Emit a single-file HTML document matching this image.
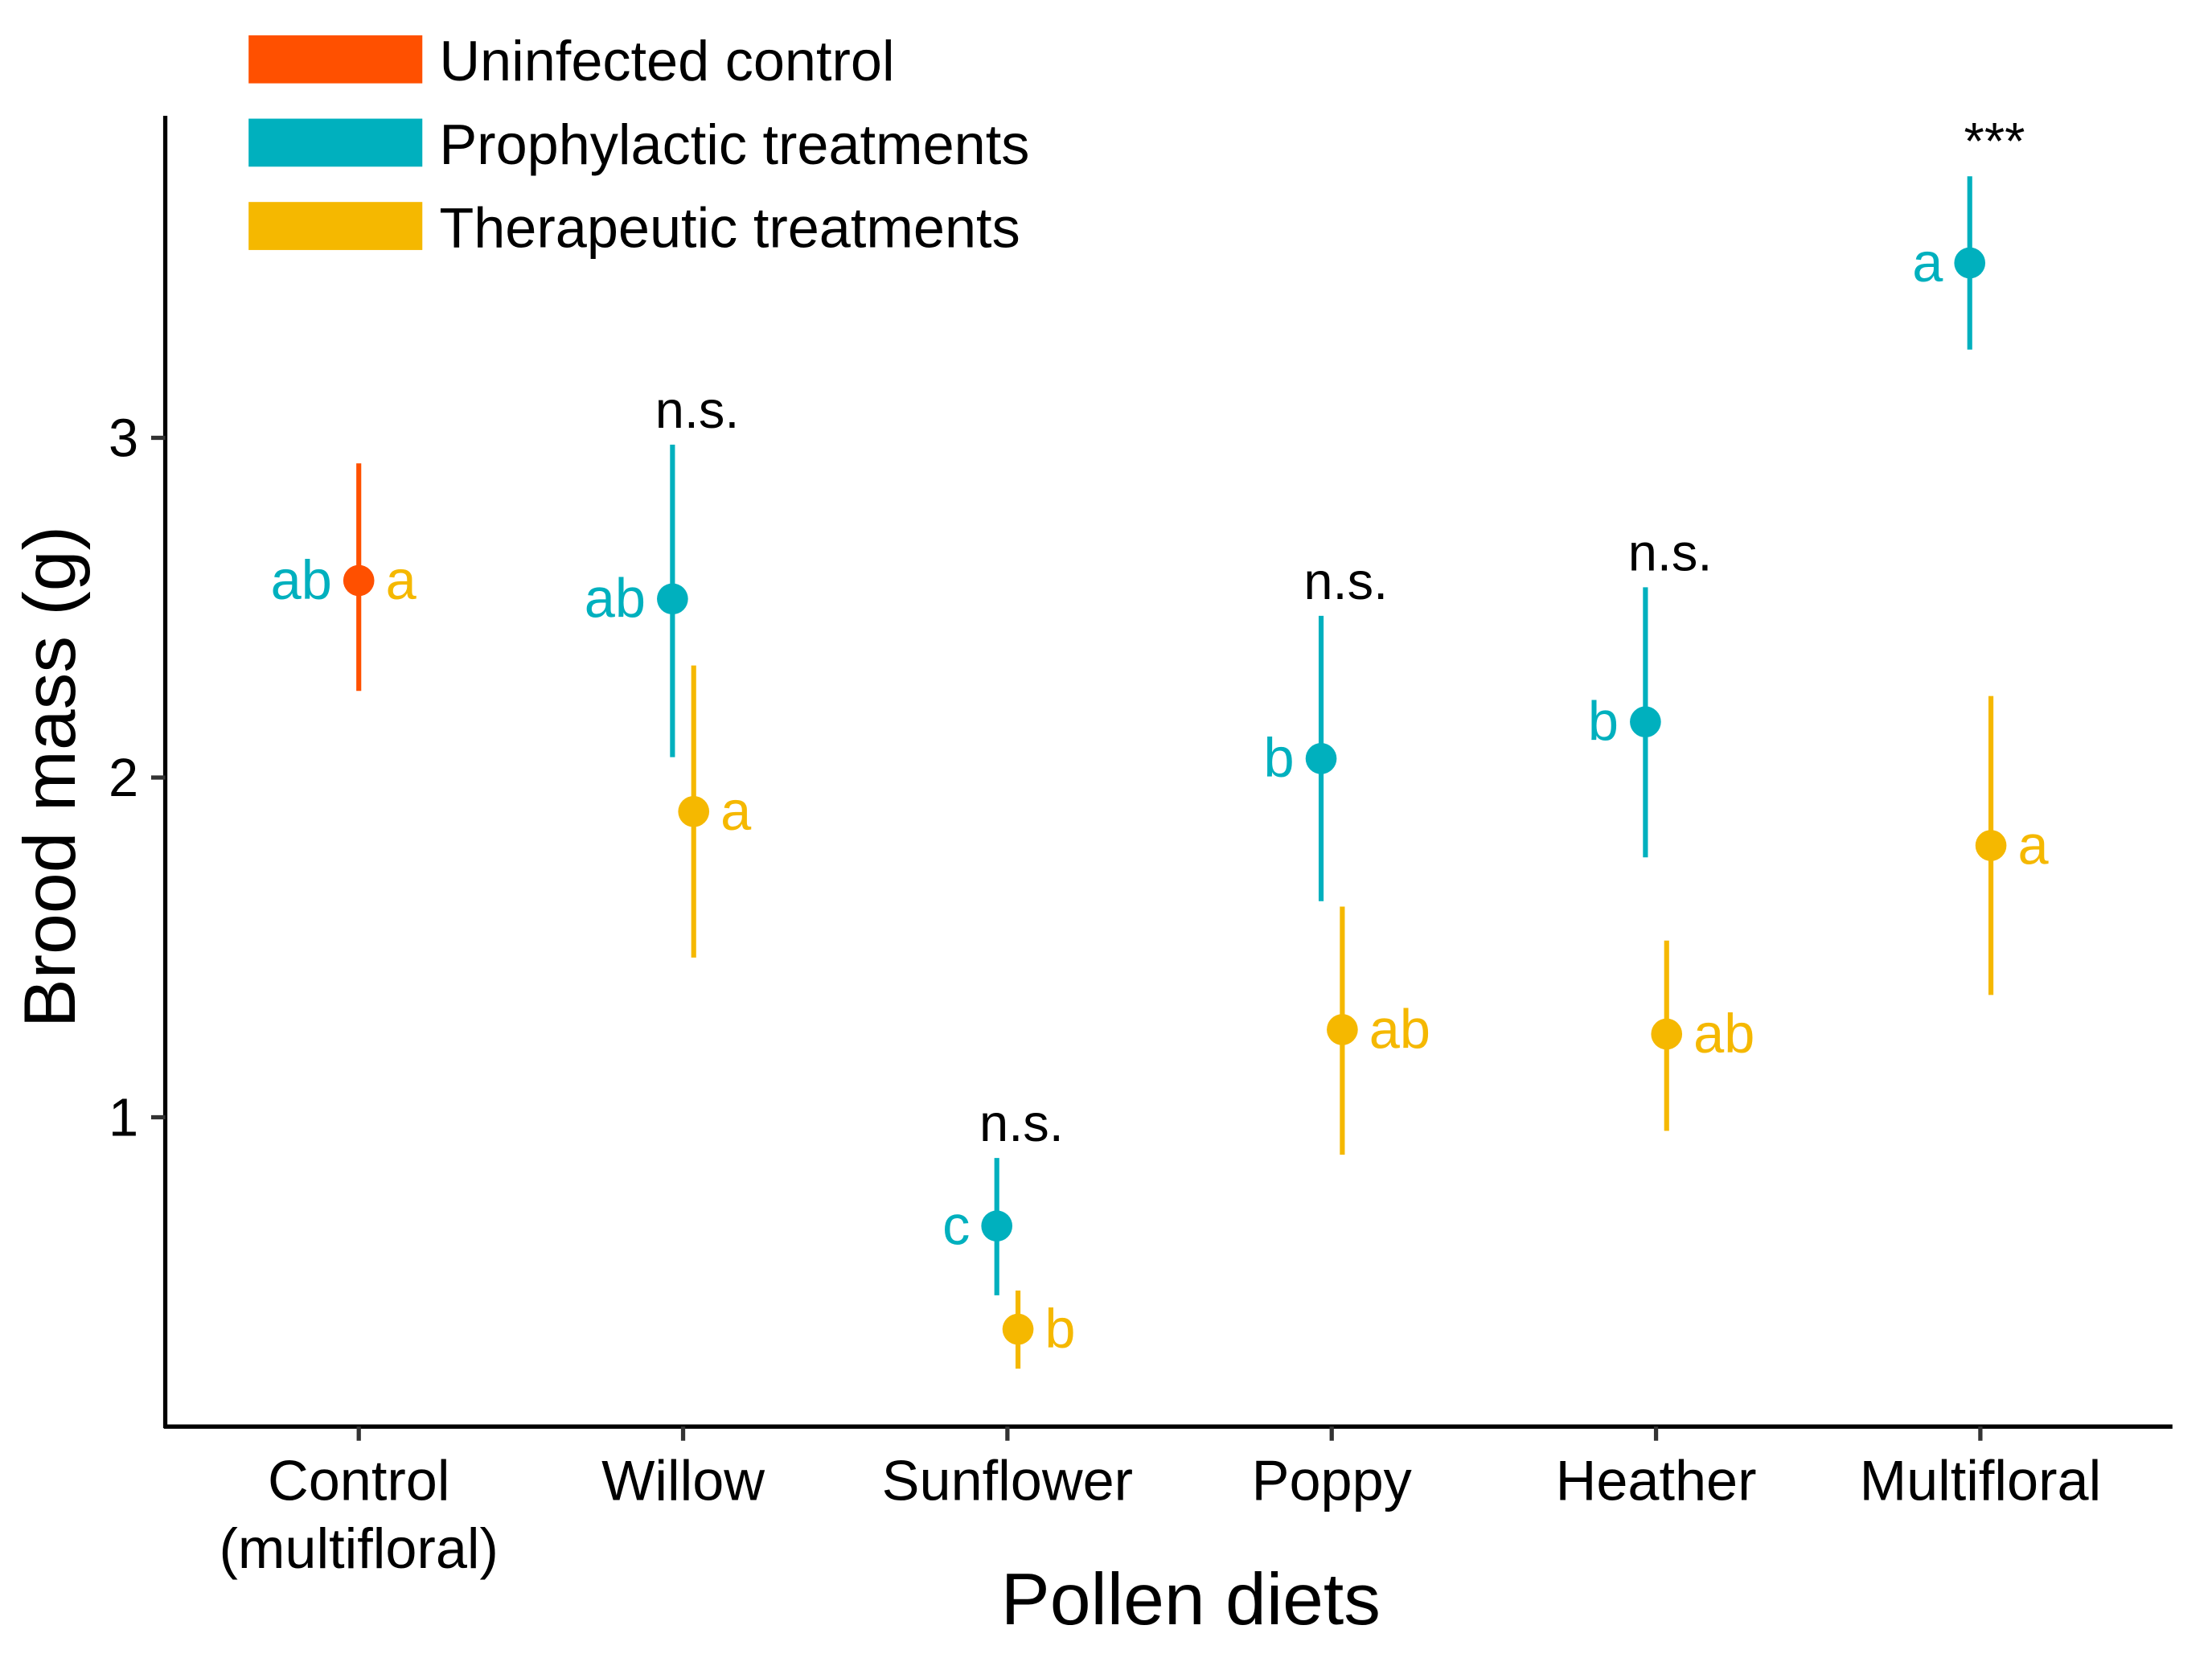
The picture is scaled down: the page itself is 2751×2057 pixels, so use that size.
<!DOCTYPE html>
<html><head><meta charset="utf-8"><style>
html,body{margin:0;padding:0;background:#fff;}
svg{display:block;font-family:"Liberation Sans",Arial,sans-serif;}
</style></head><body>
<svg id="chart" width="2751" height="2057" viewBox="0 0 1566 1171" preserveAspectRatio="none" xmlns="http://www.w3.org/2000/svg">
<rect width="1566" height="1171" fill="#fff"/>
<g id="legend">
 <rect x="176" y="25" width="123" height="34" fill="#FF5000"/>
 <text x="311" y="57" font-size="40">Uninfected control</text>
 <rect x="176" y="84" width="123" height="34" fill="#00B0BE"/>
 <text x="311" y="116" font-size="40">Prophylactic treatments</text>
 <rect x="176" y="143" width="123" height="34" fill="#F5B800"/>
 <text x="311" y="175" font-size="40">Therapeutic treatments</text>
</g>
<g id="axes">
 <line x1="117" y1="82" x2="117" y2="1011" stroke="#000" stroke-width="3"/>
 <line x1="116" y1="1010" x2="1538" y2="1010" stroke="#000" stroke-width="3"/>
 <text transform="translate(53,550) rotate(-90)" text-anchor="middle" font-size="52">Brood mass (g)</text>
 <text x="843" y="1150" text-anchor="middle" font-size="52">Pollen diets</text>
</g>
<g id="ticks"></g>
<g id="marks"></g>
</svg>
<script>
const categories = ["Control|(multifloral)", "Willow", "Sunflower", "Poppy", "Heather", "Multifloral"];
const yTicks = [1, 2, 3];
const controlMean = [2.58];
const controlLo = [2.255];
const controlHi = [2.925];
const controlLetterLeft = ["ab"];
const controlLetterRight = ["a"];
const prophMean = [null, 2.526, 0.68, 2.056, 2.164, 3.515];
const prophLo = [null, 2.06, 0.476, 1.636, 1.765, 3.26];
const prophHi = [null, 2.98, 0.88, 2.476, 2.56, 3.77];
const prophLetters = [null, "ab", "c", "b", "b", "a"];
const therMean = [null, 1.90, 0.376, 1.258, 1.245, 1.80];
const therLo = [null, 1.47, 0.26, 0.89, 0.96, 1.36];
const therHi = [null, 2.33, 0.49, 1.62, 1.52, 2.24];
const therLetters = [null, "a", "b", "ab", "ab", "a"];
const sigLabels = [null, "n.s.", "n.s.", "n.s.", "n.s.", "***"];

const NS = "http://www.w3.org/2000/svg";
const yScale = v => 1031.5 - v * 240.5;
const xScale = i => 254 + i * 229.6;
const OFF = 7.5;
const C_CTRL = "#FF5000", C_PRO = "#00B0BE", C_THE = "#F5B800";
function mk(tag, attrs, parent) {
  const e = document.createElementNS(NS, tag);
  for (const k in attrs) e.setAttribute(k, attrs[k]);
  parent.appendChild(e);
  return e;
}
const ticksG = document.getElementById("ticks");
const marksG = document.getElementById("marks");
yTicks.forEach(t => {
  const y = yScale(t);
  const l = mk("line", {x1: 107, x2: 117, y1: y, y2: y, stroke: "#333", "stroke-width": 3}, ticksG);
  
  
  const tx = mk("text", {x: 98, y: y + 13, "text-anchor": "end", "font-size": 38}, ticksG);
  
  
  tx.textContent = t;
});
categories.forEach((c, i) => {
  const x = xScale(i);
  const l = mk("line", {x1: x, x2: x, y1: 1010, y2: 1020, stroke: "#333", "stroke-width": 3}, ticksG);
  
  
  c.split("|").forEach((line, j) => {
    const tx = mk("text", {x: x, y: 1062 + j * 48, "text-anchor": "middle", "font-size": 40}, ticksG);
    
    
    tx.textContent = line;
  });
});
function drawPoint(x, m, lo, hi, col, name) {
  const l = mk("line", {x1: x, x2: x, y1: yScale(hi), y2: yScale(lo), stroke: col, "stroke-width": 3.5}, marksG);
  
  
  const p = mk("circle", {cx: x, cy: yScale(m), r: 11, fill: col}, marksG);
  
  
}
function drawText(x, y, txt, col, anchor, size, name) {
  const t = mk("text", {x: x, y: y, fill: col, "text-anchor": anchor, "font-size": size}, marksG);
  
  
  t.textContent = txt;
}
const cx0 = xScale(0);
drawPoint(cx0, controlMean[0], controlLo[0], controlHi[0], C_CTRL, 'control');
drawText(cx0 - 19, yScale(controlMean[0]) + 13, controlLetterLeft[0], C_PRO, "end", 39, 'control-letter-prophylactic');
drawText(cx0 + 19, yScale(controlMean[0]) + 13, controlLetterRight[0], C_THE, "start", 39, 'control-letter-therapeutic');
for (let i = 1; i < categories.length; i++) {
  const xp = xScale(i) - OFF, xt = xScale(i) + OFF;
  drawPoint(xp, prophMean[i], prophLo[i], prophHi[i], C_PRO, 'prophylactic');
  drawPoint(xt, therMean[i], therLo[i], therHi[i], C_THE, 'therapeutic');
  drawText(xp - 19, yScale(prophMean[i]) + 13, prophLetters[i], C_PRO, "end", 39, 'prophylactic-letter');
  drawText(xt + 19, yScale(therMean[i]) + 13, therLetters[i], C_THE, "start", 39, 'therapeutic-letter');
  drawText(xScale(i) + 10, yScale(prophHi[i]) - 12, sigLabels[i], "#000", "middle", 37, 'significance-label');
}
</script>
</body></html>
